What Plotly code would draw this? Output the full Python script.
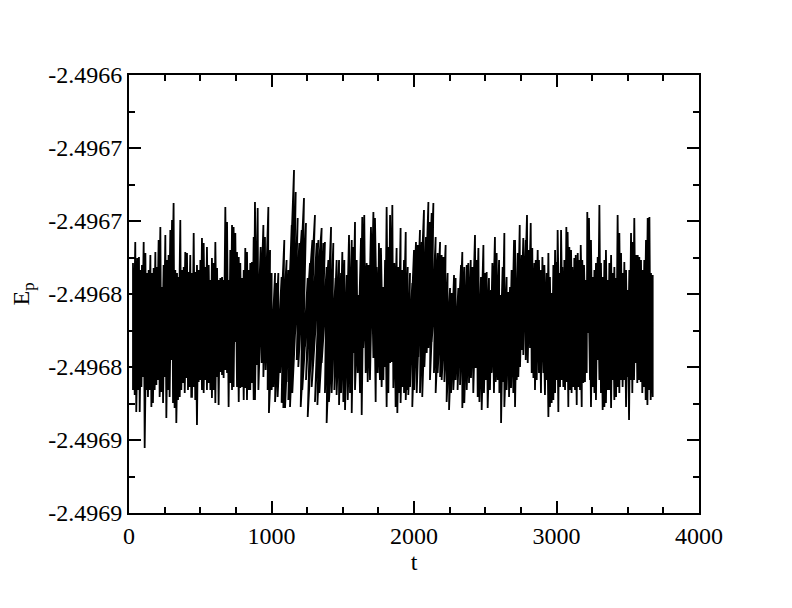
import plotly.graph_objects as go

# Upper-envelope readings of the fluctuating E_p(t) trace
t_upper = [28,44,58,70,82,91,103,115,126,138,150,161,173,185,196,208,220,232,243,255,267,278,290,302,313,325,337,349,360,372,384,395,407,419,430,442,
           442,454,465,477,489,501,512,524,536,547,559,571,582,594,606,618,629,641,653,664,676,688,699,711,723,734,746,758,770,781,793,805,816,828,840,851,863,875,
           884,903,924,943,954,978,990,1001,1025,1036,1048,1071,1090,1106,1118,1130,1142,1158,1170,1184,1195,1212,1228,1242,1254,1270,1287,1305,1317,1329,1340,1352,1364,1375,1387,1399,1418,1434,1450,1457,1474,1488,1497,1511,1528,1544,1563,1574,1586,1598,1609,1628,1637,1651,1668,1680,1698,1715,1726,1738,1754,1768,1785,
           1797,1808,1820,1832,1848,1862,1878,1890,1906,1918,1930,1942,1956,1972,1988,2000,2014,2026,2042,2054,2070,2084,2101,2112,2124,2136,2152,2166,2183,2194,2206,2222,2236,2253,2264,2281,2292,2311,2330,2339,2353,2370,2381,2398,2409,2428,2440,2452,2470,2487,2498,2510,2526,2540,2550,2568,2580,2597,2608,2622,2634,2650,2662,2674,2685,2702,
           2709,2728,2742,2756,2767,2784,2793,2807,2819,2830,2845,2854,2868,2877,2891,2901,2915,2931,2943,2954,2966,2978,2990,3001,3008,3020,3032,3041,3055,3069,3078,3090,3102,3111,3125,3135,3149,3160,3170,3181,3193,3205,3216,3228,3242,3254,3266,3277,3289,3301,3312,3324,3336,3347,3359,3371,3383,3394,3406,3418,3429,3441,3453,3464,3476,3488,3499,3511,3523,3535,3546,3558,3570,3581,3593,3605,3616,3628,3640,3652,3663,3675]
ep_upper = [-2.4967288,-2.4967144,-2.4967253,-2.4967247,-2.4967336,-2.4967301,-2.4967144,-2.4967219,-2.4967356,-2.4967336,-2.4967233,-2.4967356,-2.4967322,-2.4967212,-2.4967315,-2.4967130,-2.4967041,-2.4967452,-2.4967301,-2.4967096,-2.4967267,-2.4967233,-2.4967062,-2.4966993,-2.4966877,-2.4967336,-2.4967356,-2.4967384,-2.4966993,-2.4967336,-2.4967315,-2.4967212,-2.4967219,-2.4967349,-2.4967233,-2.4967356,
            -2.4967370,-2.4967082,-2.4967349,-2.4967301,-2.4967336,-2.4967267,-2.4967116,-2.4967151,-2.4967315,-2.4967178,-2.4967301,-2.4967404,-2.4967253,-2.4967288,-2.4967144,-2.4967322,-2.4967404,-2.4967390,-2.4967384,-2.4967404,-2.4966904,-2.4967007,-2.4967404,-2.4967199,-2.4967027,-2.4967041,-2.4967082,-2.4967212,-2.4967247,-2.4967288,-2.4967390,-2.4967336,-2.4967185,-2.4967212,-2.4967336,-2.4967288,-2.4967281,-2.4967110,
            -2.4966870,-2.4966911,-2.4967178,-2.4967027,-2.4967110,-2.4966904,-2.4967199,-2.4967356,-2.4967356,-2.4967425,-2.4967356,-2.4967384,-2.4967130,-2.4967267,-2.4967336,-2.4967473,-2.4967027,-2.4966651,-2.4966801,-2.4966979,-2.4967151,-2.4967062,-2.4966842,-2.4967014,-2.4967390,-2.4967288,-2.4967130,-2.4966959,-2.4967151,-2.4967130,-2.4967267,-2.4967048,-2.4967151,-2.4967144,-2.4967315,-2.4967267,-2.4967041,-2.4967151,-2.4967390,-2.4967267,-2.4967267,-2.4967356,-2.4967212,-2.4967267,-2.4967370,-2.4967096,-2.4967130,-2.4967178,-2.4967007,-2.4967267,-2.4967507,-2.4967116,-2.4966973,-2.4966959,-2.4967288,-2.4967301,-2.4967041,-2.4966938,-2.4966979,-2.4967315,-2.4967151,-2.4967185,-2.4967452,
            -2.4967267,-2.4966904,-2.4967178,-2.4966959,-2.4966890,-2.4967288,-2.4967185,-2.4967315,-2.4967048,-2.4967336,-2.4967267,-2.4967075,-2.4967315,-2.4967356,-2.4967425,-2.4967199,-2.4967144,-2.4967164,-2.4967062,-2.4967144,-2.4966925,-2.4967110,-2.4966870,-2.4967007,-2.4966945,-2.4966877,-2.4967110,-2.4967219,-2.4967144,-2.4967233,-2.4967247,-2.4967164,-2.4967356,-2.4967459,-2.4967493,-2.4967370,-2.4967390,-2.4967459,-2.4967301,-2.4967212,-2.4967315,-2.4967301,-2.4967288,-2.4967267,-2.4967315,-2.4967096,-2.4967267,-2.4967185,-2.4967384,-2.4967164,-2.4967356,-2.4967349,-2.4967390,-2.4967473,-2.4967288,-2.4967110,-2.4967219,-2.4967267,-2.4967507,-2.4967315,-2.4967082,-2.4967384,-2.4967486,-2.4967452,-2.4967336,-2.4967130,
            -2.4967130,-2.4967219,-2.4967027,-2.4967233,-2.4967116,-2.4967130,-2.4966959,-2.4967199,-2.4967014,-2.4967185,-2.4967288,-2.4967267,-2.4967199,-2.4967267,-2.4967336,-2.4967247,-2.4967301,-2.4967356,-2.4967219,-2.4967384,-2.4967493,-2.4967301,-2.4967199,-2.4967281,-2.4967062,-2.4967356,-2.4967062,-2.4967315,-2.4967267,-2.4967041,-2.4967075,-2.4967178,-2.4967199,-2.4967315,-2.4967253,-2.4967233,-2.4967219,-2.4967267,-2.4967164,-2.4967267,-2.4967301,-2.4967404,-2.4966938,-2.4966979,-2.4967130,-2.4967384,-2.4967336,-2.4967288,-2.4967247,-2.4966890,-2.4967288,-2.4967384,-2.4967267,-2.4967199,-2.4967404,-2.4967288,-2.4967233,-2.4967356,-2.4967315,-2.4967390,-2.4966959,-2.4967082,-2.4967219,-2.4967356,-2.4967281,-2.4967336,-2.4967473,-2.4967336,-2.4967082,-2.4967144,-2.4966979,-2.4967233,-2.4967233,-2.4967247,-2.4967267,-2.4967336,-2.4967267,-2.4967130,-2.4966979,-2.4966973,-2.4967356,-2.4967370]

# Lower-envelope readings
t_lower = [28,40,51,63,75,87,98,110,122,133,145,157,168,180,192,204,215,227,239,250,262,274,285,297,309,320,332,344,356,367,379,391,402,414,426,437,
           442,454,465,477,489,501,512,524,536,547,559,571,582,594,606,618,629,641,653,664,676,688,699,711,723,734,746,758,770,781,793,805,816,828,840,851,863,875,
           884,896,908,931,943,959,973,982,1001,1013,1025,1043,1060,1071,1083,1095,1106,1118,1130,1146,1165,1177,1188,1205,1216,1235,1242,1254,1270,1282,1294,1305,1322,1336,1352,1375,1387,1403,1422,1441,1457,1474,1488,1504,1516,1535,1551,1563,1574,1586,1605,1621,1633,1644,1661,1675,1691,1715,1731,1745,1761,1773,1785,
           1797,1808,1820,1832,1843,1855,1871,1883,1895,1906,1918,1930,1942,1949,1960,1972,1988,2002,2019,2030,2042,2058,2073,2089,2101,2112,2124,2140,2152,2166,2183,2194,2213,2229,2246,2260,2276,2292,2306,2323,2339,2353,2370,2386,2400,2416,2433,2447,2459,2475,2491,2505,2517,2533,2545,2561,2573,2587,2599,2611,2622,2634,2650,2667,2681,2697,
           2709,2721,2732,2744,2756,2767,2784,2798,2814,2826,2838,2849,2861,2877,2891,2908,2919,2931,2943,2954,2966,2978,2990,3001,3013,3025,3036,3048,3060,3071,3083,3095,3106,3118,3130,3142,3153,3165,3177,3188,3200,3212,3223,3235,3242,3254,3266,3277,3289,3301,3312,3324,3336,3347,3359,3371,3383,3394,3406,3418,3429,3441,3453,3464,3476,3488,3499,3509,3520,3532,3544,3556,3567,3579,3591,3602,3614,3626,3638,3649,3661,3675]
ep_lower = [-2.4968157,-2.4968192,-2.4968308,-2.4968157,-2.4968308,-2.4968137,-2.4968068,-2.4968555,-2.4968157,-2.4968205,-2.4968157,-2.4968274,-2.4968246,-2.4968157,-2.4968123,-2.4968089,-2.4968205,-2.4968171,-2.4968246,-2.4968068,-2.4968349,-2.4968157,-2.4968205,-2.4967952,-2.4968246,-2.4968281,-2.4968383,-2.4968226,-2.4968205,-2.4968157,-2.4968109,-2.4968178,-2.4968075,-2.4968157,-2.4968137,-2.4968205,
            -2.4968205,-2.4968137,-2.4968226,-2.4968397,-2.4968103,-2.4968089,-2.4968157,-2.4968178,-2.4968089,-2.4968157,-2.4968109,-2.4968157,-2.4968212,-2.4968157,-2.4968246,-2.4968068,-2.4968260,-2.4968034,-2.4968055,-2.4968075,-2.4968020,-2.4968041,-2.4968274,-2.4968109,-2.4968157,-2.4968137,-2.4967829,-2.4968137,-2.4968240,-2.4968144,-2.4968137,-2.4968226,-2.4968144,-2.4968226,-2.4968157,-2.4968157,-2.4968109,-2.4968226,
            -2.4968226,-2.4967986,-2.4968157,-2.4967973,-2.4968068,-2.4968020,-2.4968157,-2.4968315,-2.4968157,-2.4968137,-2.4968240,-2.4968205,-2.4968041,-2.4968246,-2.4968281,-2.4968281,-2.4968103,-2.4968226,-2.4968274,-2.4968178,-2.4967781,-2.4967952,-2.4968000,-2.4968274,-2.4968157,-2.4967863,-2.4968089,-2.4968342,-2.4968041,-2.4968137,-2.4967767,-2.4968240,-2.4968260,-2.4968178,-2.4967973,-2.4968178,-2.4968383,-2.4968240,-2.4968178,-2.4968157,-2.4968192,-2.4968260,-2.4968178,-2.4968240,-2.4968294,-2.4968226,-2.4968178,-2.4968315,-2.4967904,-2.4968157,-2.4968041,-2.4968178,-2.4968329,-2.4967870,-2.4968041,-2.4968103,-2.4968089,-2.4967938,-2.4968240,-2.4968041,-2.4968089,-2.4968137,-2.4968089,
            -2.4968000,-2.4968274,-2.4968178,-2.4967973,-2.4967966,-2.4968144,-2.4968274,-2.4968315,-2.4968178,-2.4968246,-2.4968137,-2.4968178,-2.4968226,-2.4968157,-2.4968192,-2.4968137,-2.4968274,-2.4968157,-2.4968178,-2.4967931,-2.4968178,-2.4968205,-2.4968000,-2.4967904,-2.4967870,-2.4968089,-2.4967829,-2.4968041,-2.4968178,-2.4968041,-2.4968068,-2.4968089,-2.4968103,-2.4968240,-2.4968294,-2.4968178,-2.4968157,-2.4968089,-2.4968157,-2.4968123,-2.4968281,-2.4968246,-2.4968157,-2.4968109,-2.4968075,-2.4968178,-2.4968007,-2.4968205,-2.4968240,-2.4968294,-2.4968178,-2.4968089,-2.4968281,-2.4968157,-2.4968041,-2.4968178,-2.4968103,-2.4968089,-2.4968178,-2.4968383,-2.4968103,-2.4968274,-2.4968157,-2.4968205,-2.4968144,-2.4968178,
            -2.4968274,-2.4968089,-2.4968068,-2.4968000,-2.4967883,-2.4967918,-2.4967952,-2.4967973,-2.4967870,-2.4968041,-2.4968075,-2.4968157,-2.4968089,-2.4968041,-2.4968178,-2.4968041,-2.4968192,-2.4968089,-2.4968342,-2.4968274,-2.4968246,-2.4968226,-2.4968178,-2.4968089,-2.4968308,-2.4968137,-2.4968089,-2.4968137,-2.4968157,-2.4968103,-2.4968274,-2.4968157,-2.4968178,-2.4968137,-2.4968157,-2.4968260,-2.4968137,-2.4968157,-2.4968274,-2.4968109,-2.4968103,-2.4968041,-2.4967767,-2.4968089,-2.4968274,-2.4968137,-2.4968178,-2.4968226,-2.4967952,-2.4968089,-2.4968178,-2.4968294,-2.4968274,-2.4968246,-2.4968157,-2.4968157,-2.4968281,-2.4968089,-2.4968226,-2.4968205,-2.4968137,-2.4968178,-2.4968089,-2.4968137,-2.4968089,-2.4968274,-2.4968068,-2.4968363,-2.4968089,-2.4968178,-2.4968089,-2.4967973,-2.4968109,-2.4968089,-2.4968103,-2.4968178,-2.4968137,-2.4968226,-2.4968260,-2.4968157,-2.4968226,-2.4968205]

y_tick_vals = [-2.4966, -2.49665, -2.4967, -2.49675, -2.4968, -2.49685, -2.4969]
y_tick_text = ["-2.4966", "-2.4967", "-2.4967", "-2.4968", "-2.4968", "-2.4969", "-2.4969"]
x_tick_vals = [0, 1000, 2000, 3000, 4000]
x_tick_text = ["0", "1000", "2000", "3000", "4000"]

# Path: a forward pass alternating upper/lower readings, then a return pass
# joining each lower reading to the previous upper reading, so the fast
# oscillation fills the band as densely as in the original trace.
n = len(t_upper)
t = []
ep = []
for i in range(n):
    t += [t_upper[i], t_lower[i]]
    ep += [ep_upper[i], ep_lower[i]]
for i in range(n - 1, 0, -1):
    t += [t_lower[i], t_upper[i - 1]]
    ep += [ep_lower[i], ep_upper[i - 1]]

FONT = "Liberation Serif"

fig = go.Figure(go.Scatter(x=t, y=ep, mode="lines",
                           line=dict(color="black", width=1.8),
                           showlegend=False, hoverinfo="skip"))

axis_common = dict(
    showline=True, linewidth=2, linecolor="black", mirror="ticks",
    ticks="inside", ticklen=12, tickwidth=2, tickcolor="black",
    showgrid=False, zeroline=False,
    tickfont=dict(family=FONT, size=24, color="black"),
)

fig.update_xaxes(
    range=[0, 4000], tickmode="array", tickvals=x_tick_vals, ticktext=x_tick_text,
    minor=dict(ticks="inside", ticklen=6, tickwidth=2, tickcolor="black",
               tickmode="linear", tick0=0, dtick=250),
    title=dict(text="t", font=dict(family=FONT, size=24, color="black"), standoff=0),
    **axis_common,
)
fig.update_yaxes(
    range=[-2.4969, -2.4966], tickmode="array", tickvals=y_tick_vals, ticktext=y_tick_text,
    minor=dict(ticks="inside", ticklen=6, tickwidth=2, tickcolor="black",
               tickmode="linear", tick0=-2.4969, dtick=0.000025),
    title=dict(text="E<sub>p</sub>", font=dict(family=FONT, size=24, color="black"), standoff=16),
    **axis_common,
)

# The page body adds an 8 px offset, so the figure is 8 px smaller and margins compensate
fig.update_layout(
    width=784, height=600,
    margin=dict(l=121, r=93, t=67, b=95, autoexpand=False),
    paper_bgcolor="white", plot_bgcolor="white",
)

fig.write_html("out.html")
